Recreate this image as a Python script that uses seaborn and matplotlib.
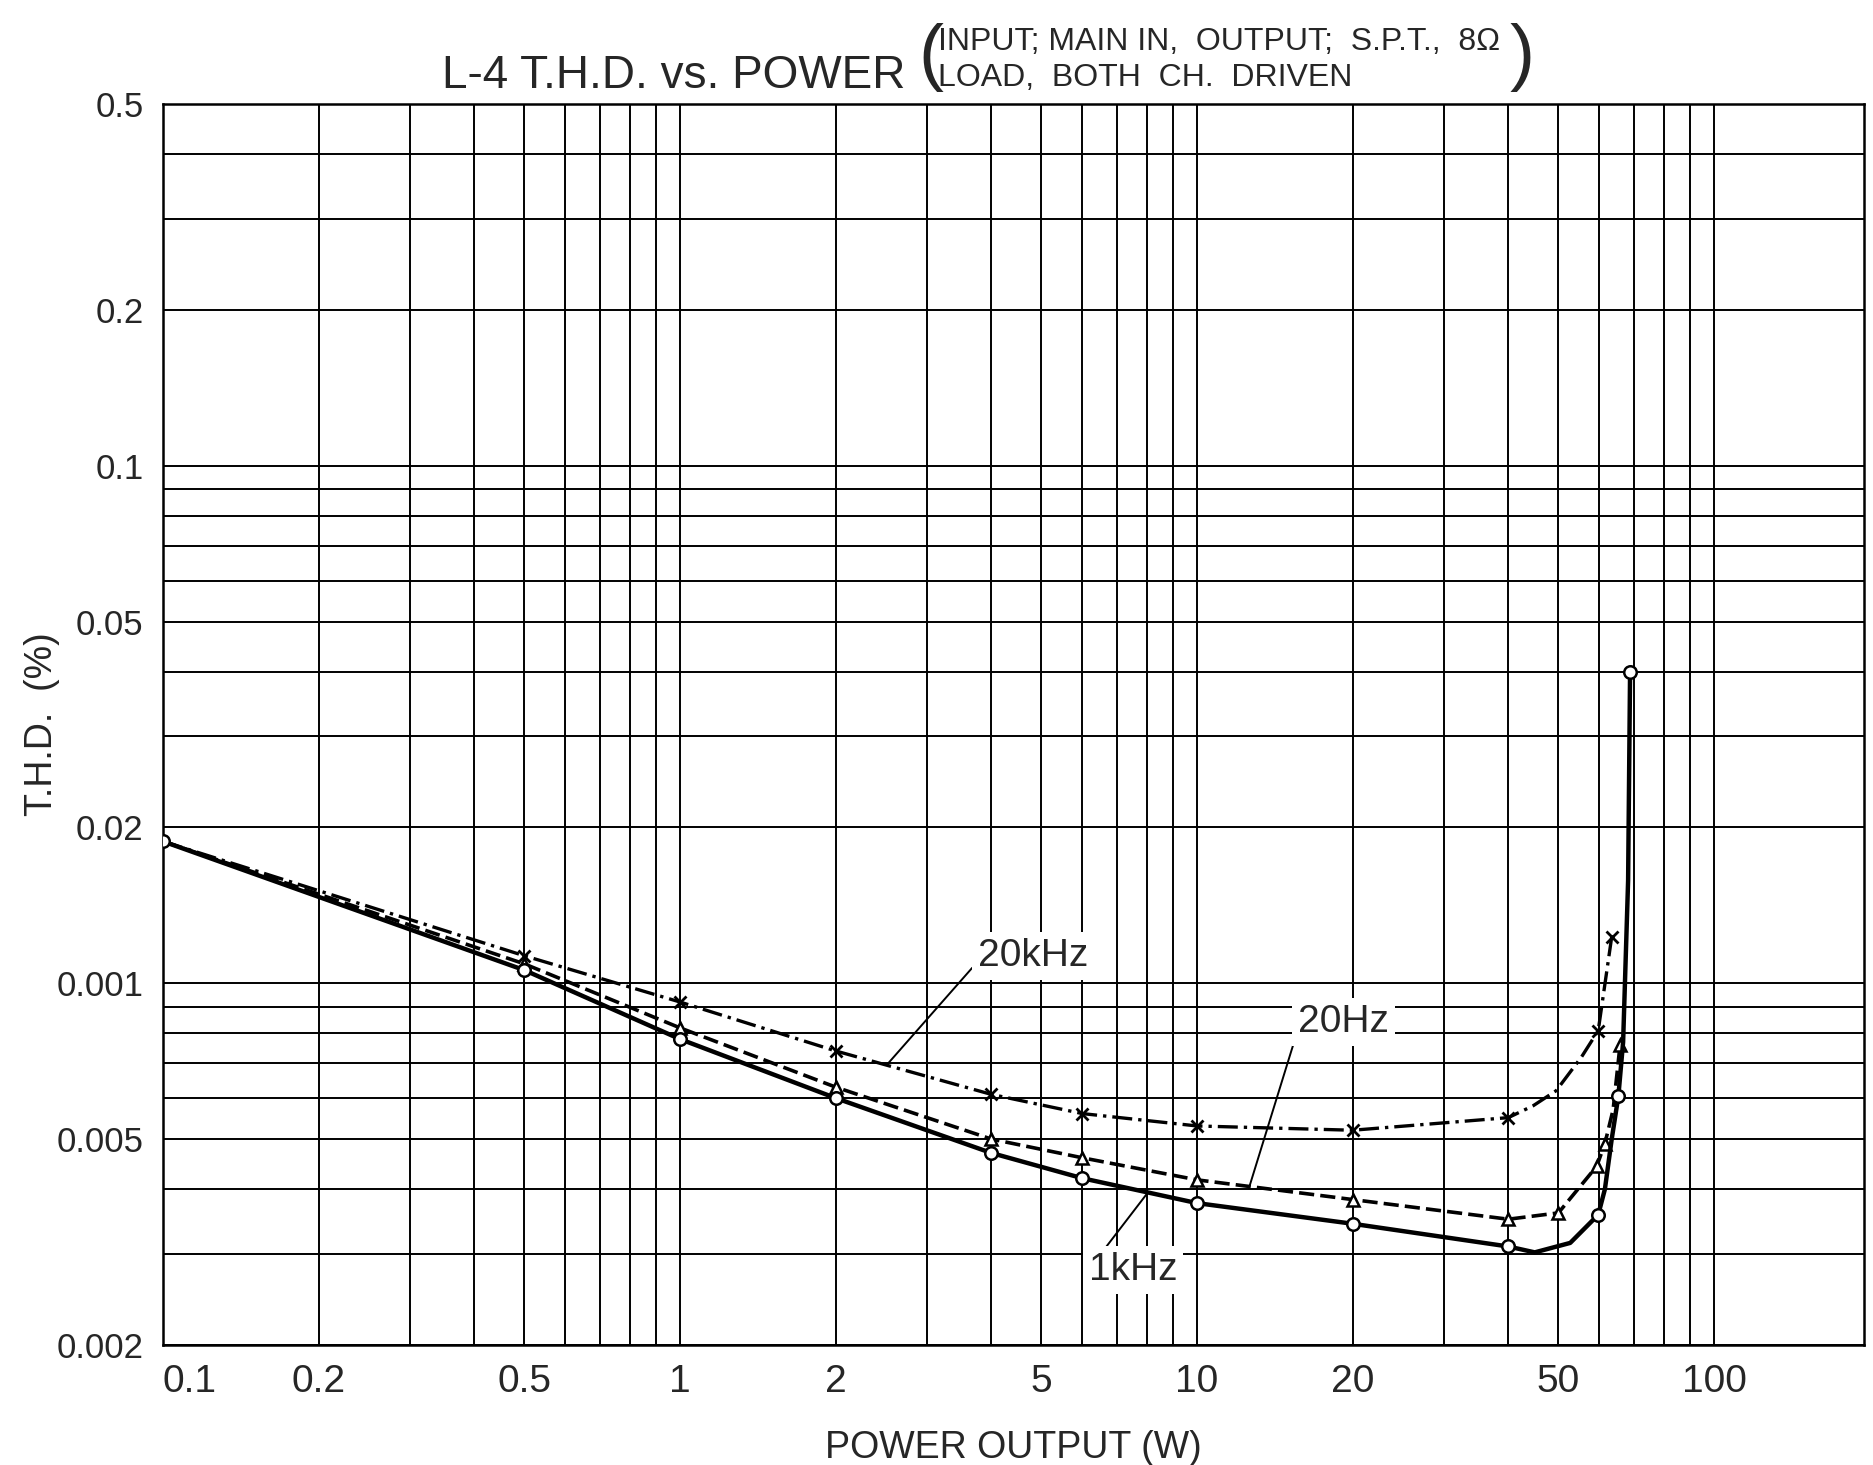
import matplotlib
matplotlib.use("Agg")
import matplotlib.pyplot as plt
from matplotlib.ticker import NullFormatter
import seaborn as sns

# ---------------- data ----------------
power_1khz = [0.1, 0.5, 1, 2, 4, 6, 10, 20, 40, 45, 52.7, 59.7, 61.5, 63.4, 65.3, 66.7, 68.2, 68.8]
thd_1khz = [0.0188, 0.0106, 0.0078, 0.0060, 0.0047, 0.0042, 0.00376, 0.00343, 0.0031, 0.00302,
            0.00315, 0.00357, 0.0040, 0.0050, 0.00605, 0.0077, 0.0158, 0.040]
marks_1khz = [0, 1, 2, 3, 4, 5, 6, 7, 8, 11, 14, 17]

power_20hz = [0.1, 0.5, 1, 2, 4, 6, 10, 20, 40, 50, 59.3, 61.5, 63.8, 65.8]
thd_20hz = [0.0188, 0.0109, 0.0082, 0.0063, 0.0050, 0.0046, 0.00417, 0.00382, 0.0035, 0.0036,
            0.00443, 0.0049, 0.0057, 0.0076]
marks_20hz = [1, 2, 3, 4, 5, 6, 7, 8, 9, 10, 11, 13]

power_20khz = [0.1, 0.5, 1, 2, 4, 6, 10, 20, 40, 44.7, 49.5, 55.4, 59.7, 63.4]
thd_20khz = [0.0188, 0.0113, 0.0092, 0.0074, 0.0061, 0.0056, 0.0053, 0.0052, 0.0055, 0.0058,
             0.0062, 0.0072, 0.0081, 0.0123]
marks_20khz = [1, 2, 3, 4, 5, 6, 7, 8, 12, 13]

x_ticks = [0.1, 0.2, 0.5, 1, 2, 5, 10, 20, 50, 100]
x_tick_labels = ["0.1", "0.2", "0.5", "1", "2", "5", "10", "20", "50", "100"]
y_ticks = [0.5, 0.2, 0.1, 0.05, 0.02, 0.01, 0.005, 0.002]
y_tick_labels = ["0.5", "0.2", "0.1", "0.05", "0.02", "0.001", "0.005", "0.002"]
x_grid_minor = [0.3, 0.4, 0.6, 0.7, 0.8, 0.9, 3, 4, 6, 7, 8, 9, 30, 40, 60, 70, 80, 90]
y_grid_minor = [0.4, 0.3, 0.09, 0.08, 0.07, 0.06, 0.04, 0.03,
                0.009, 0.008, 0.007, 0.006, 0.004, 0.003]

title_main = "L-4 T.H.D. vs. POWER"
title_line1 = "INPUT; MAIN IN,  OUTPUT;  S.P.T.,  8Ω"
title_line2 = "LOAD,  BOTH  CH.  DRIVEN"
x_label = "POWER OUTPUT (W)"
y_label = "T.H.D.  (%)"

# ---------------- figure ----------------
sns.set_theme(style="white")
plt.rcParams["font.family"] = ["Liberation Sans", "DejaVu Sans"]

W, H = 1873, 1465
fig = plt.figure(figsize=(W / 100, H / 100), dpi=100)
fig.patch.set_facecolor("white")

def fx(px):
    return px / W

def fy(py):
    return 1 - py / H

L, R, T, B = 163, 1864, 104, 1345
ax = fig.add_axes([fx(L), fy(B), (R - L) / W, (B - T) / H])
ax.set_facecolor("white")
ax.set_xscale("log")
ax.set_yscale("log")
ax.set_xlim(0.1, 195)
ax.set_ylim(0.002, 0.5)

ax.set_xticks(x_ticks, labels=x_tick_labels)
ax.set_xticks(x_grid_minor, minor=True)
ax.set_yticks(y_ticks, labels=y_tick_labels)
ax.set_yticks(y_grid_minor, minor=True)
ax.xaxis.set_minor_formatter(NullFormatter())
ax.yaxis.set_minor_formatter(NullFormatter())
ax.tick_params(which="both", length=0)
ax.tick_params(axis="x", which="major", pad=14, labelsize=28)
ax.tick_params(axis="y", which="major", pad=14, labelsize=25)
ax.get_xticklabels()[0].set_horizontalalignment("left")

ax.grid(True, which="both", color="black", lw=1.4)
ax.set_axisbelow(True)
for sp in ax.spines.values():
    sp.set_visible(True)
    sp.set_color("black")
    sp.set_linewidth(1.8)

# curves
sns.lineplot(x=power_20khz, y=thd_20khz, ax=ax, color="black", lw=2.4,
             linestyle=(0, (6, 1.8, 1, 1.8)), marker="x", markersize=9,
             markeredgecolor="black", markeredgewidth=2, markevery=marks_20khz,
             errorbar=None, sort=False, zorder=5)
sns.lineplot(x=power_20hz, y=thd_20hz, ax=ax, color="black", lw=2.6,
             linestyle=(0, (4.2, 1.7)), marker="^", markersize=9,
             markerfacecolor="white", markeredgecolor="black", markeredgewidth=1.8,
             markevery=marks_20hz, errorbar=None, sort=False, zorder=6)
sns.lineplot(x=power_1khz, y=thd_1khz, ax=ax, color="black", lw=3.2,
             linestyle="-", marker="o", markersize=9,
             markerfacecolor="white", markeredgecolor="black", markeredgewidth=1.8,
             markevery=marks_1khz, errorbar=None, sort=False, zorder=7)

# annotations
box = dict(boxstyle="square,pad=0.15", fc="white", ec="none")
arrow = dict(arrowstyle="-", color="black", lw=1.4, shrinkA=0, shrinkB=0)
ax.annotate("20kHz", xy=(2.51, 0.00695), xytext=(4.82, 0.0113), fontsize=28,
            ha="center", va="center", bbox=box,
            arrowprops=dict(arrow, relpos=(0.0, 0.35)), zorder=4)
ax.annotate("20Hz", xy=(12.6, 0.00402), xytext=(19.2, 0.00842), fontsize=28,
            ha="center", va="center", bbox=box,
            arrowprops=dict(arrow, relpos=(0.0, 0.3)), zorder=4)
ax.annotate("1kHz", xy=(8.0, 0.00392), xytext=(7.52, 0.00279), fontsize=28,
            ha="center", va="center", bbox=box,
            arrowprops=dict(arrow, relpos=(0.15, 1.0)), zorder=4)

# axis labels
ax.set_xlabel(x_label, fontsize=27)
ax.xaxis.set_label_coords(0.5, (B - 1448) / (B - T))
ax.xaxis.label.set_va("center")
ax.set_ylabel(y_label, fontsize=27)
ax.yaxis.set_label_coords((42 - L) / (R - L), 0.5)
ax.yaxis.label.set_va("center")
ax.yaxis.label.set_ha("center")

# title block
fig.text(fx(442), fy(88), title_main, fontsize=33, ha="left", va="baseline")
fig.text(fx(918), fy(57), "(", fontsize=54, ha="left", va="center")
fig.text(fx(938), fy(50), title_line1, fontsize=23, ha="left", va="baseline")
fig.text(fx(938), fy(86), title_line2, fontsize=23, ha="left", va="baseline")
fig.text(fx(1510), fy(57), ")", fontsize=54, ha="left", va="center")

fig.savefig("out.png", dpi=100, facecolor="white")
